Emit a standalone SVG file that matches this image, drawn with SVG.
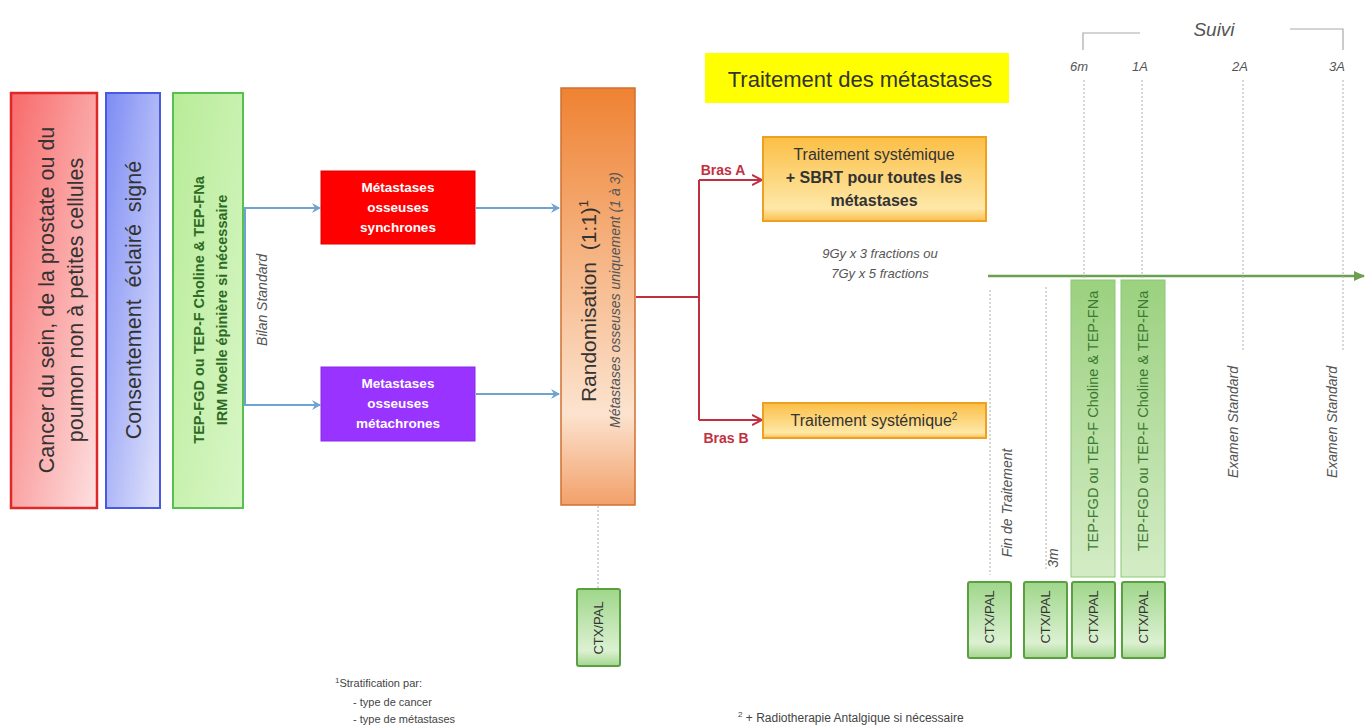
<svg xmlns="http://www.w3.org/2000/svg" width="1365" height="727" viewBox="0 0 1365 727">
<defs>
<linearGradient id="gRed" x1="0" y1="0" x2="1" y2="1"><stop offset="0" stop-color="#f86a6a"/><stop offset="1" stop-color="#fde0e0"/></linearGradient>
<linearGradient id="gBlue" x1="0" y1="0" x2="1" y2="1"><stop offset="0" stop-color="#7d8cf4"/><stop offset="1" stop-color="#e2e4fb"/></linearGradient>
<linearGradient id="gGreen" x1="0" y1="0" x2="1" y2="1"><stop offset="0" stop-color="#b8ec98"/><stop offset="1" stop-color="#d8f6c6"/></linearGradient>
<linearGradient id="gOrange" x1="0" y1="0" x2="0" y2="1"><stop offset="0" stop-color="#ef8232"/><stop offset="0.78" stop-color="#fce3cf"/><stop offset="1" stop-color="#f2a06a"/></linearGradient>
<linearGradient id="gYel" x1="0" y1="0" x2="0" y2="1"><stop offset="0" stop-color="#fbbf45"/><stop offset="0.85" stop-color="#fee8a8"/><stop offset="1" stop-color="#fbc050"/></linearGradient>
<linearGradient id="gCtx" x1="0" y1="0" x2="0" y2="1"><stop offset="0" stop-color="#9fd68a"/><stop offset="0.8" stop-color="#dcf1d2"/><stop offset="1" stop-color="#a5d690"/></linearGradient>
<linearGradient id="gTep" x1="0" y1="0" x2="0" y2="1"><stop offset="0" stop-color="#9bd17f"/><stop offset="1" stop-color="#d4ecc6"/></linearGradient>
<marker id="aBlue" markerWidth="10" markerHeight="10" refX="8" refY="5" orient="auto" markerUnits="userSpaceOnUse"><path d="M0,0 L9,5 L0,10 L3,5 Z" fill="#6fa3d2"/></marker>
<marker id="aRed" markerWidth="12" markerHeight="12" refX="9" refY="6" orient="auto" markerUnits="userSpaceOnUse"><path d="M0,1 L10,6 L0,11" fill="none" stroke="#c23040" stroke-width="2"/></marker>
<marker id="aGreen" markerWidth="12" markerHeight="12" refX="10" refY="6" orient="auto" markerUnits="userSpaceOnUse"><path d="M0,1 L11,6 L0,11 Z" fill="#6aa050"/></marker>
</defs>
<style>
text{font-family:"Liberation Sans",Arial,sans-serif}
.blue{stroke:#6fa3d2;stroke-width:2;fill:none}
.red{stroke:#c23040;stroke-width:2;fill:none}
.dot{stroke:#b0b0b0;stroke-width:1;stroke-dasharray:2,2;fill:none}
.it{font-style:italic;fill:#555}
.ctx{fill:url(#gCtx);stroke:#5aa040;stroke-width:2}
.ctxt{font-size:13px;fill:#333;text-anchor:middle}
.wt{fill:#fff;font-weight:bold;font-size:13.5px;text-anchor:middle}
.fn{fill:#444}
</style>
<rect width="1365" height="727" fill="#fff"/>

<g id="connectors">
<line class="blue" x1="245" y1="208" x2="245" y2="405"/>
<line class="blue" x1="243" y1="208" x2="320" y2="208" marker-end="url(#aBlue)"/>
<line class="blue" x1="243" y1="405" x2="320" y2="405" marker-end="url(#aBlue)"/>
<line class="blue" x1="476" y1="208" x2="559" y2="208" marker-end="url(#aBlue)"/>
<line class="blue" x1="476" y1="394" x2="559" y2="394" marker-end="url(#aBlue)"/>
<path class="red" d="M636,297 H699 M699,180 V420"/>
<line class="red" x1="699" y1="180" x2="761" y2="180" marker-end="url(#aRed)"/>
<line class="red" x1="699" y1="420" x2="761" y2="420" marker-end="url(#aRed)"/>
<line class="dot" x1="598" y1="506" x2="598" y2="588"/>
<line x1="988" y1="276" x2="1364" y2="276" stroke="#6aa050" stroke-width="2.5" marker-end="url(#aGreen)"/>
<line class="dot" x1="1084" y1="80" x2="1084" y2="280"/>
<line class="dot" x1="1142" y1="80" x2="1142" y2="280"/>
<line class="dot" x1="1243" y1="80" x2="1243" y2="350"/>
<line class="dot" x1="1343" y1="80" x2="1343" y2="350"/>
<line class="dot" x1="990" y1="290" x2="990" y2="575"/>
<line class="dot" x1="1046" y1="287" x2="1046" y2="570"/>
<path d="M1083,50 V33 H1140 M1290,29 H1343 V50" fill="none" stroke="#aaa" stroke-width="1.2"/>
</g>

<g id="cancer">
<rect x="11" y="93" width="86" height="415" fill="url(#gRed)" stroke="#e02828" stroke-width="2.5"/>
<text transform="translate(54,300) rotate(-90)" font-size="21.5" fill="#333" text-anchor="middle"><tspan x="0" y="0">Cancer du sein, de la prostate ou du</tspan><tspan x="0" y="29">poumon non à petites cellules</tspan></text>
</g>
<g id="consentement">
<rect x="106" y="93" width="54" height="415" fill="url(#gBlue)" stroke="#4a5ae0" stroke-width="2"/>
<text transform="translate(141,300) rotate(-90)" font-size="21.5" fill="#333" text-anchor="middle" xml:space="preserve">Consentement  éclairé  signé</text>
</g>
<g id="bilan">
<rect x="173" y="93" width="70" height="415" fill="url(#gGreen)" stroke="#58c050" stroke-width="2"/>
<text transform="translate(208,310) rotate(-90)" font-size="14.5" font-weight="bold" fill="#2d6a25" text-anchor="middle"><tspan x="0" y="-4">TEP-FGD ou TEP-F Choline &amp; TEP-FNa</tspan><tspan x="0" y="19">IRM Moelle épinière si nécessaire</tspan></text>
<text class="it" transform="translate(267,300) rotate(-90)" font-size="14" text-anchor="middle">Bilan Standard</text>
</g>
<g id="synchrones">
<rect x="321" y="171" width="154" height="73" fill="#ff0000" stroke="#e00000"/>
<text class="wt" x="398" y="192">Métastases<tspan x="398" dy="20">osseuses</tspan><tspan x="398" dy="20">synchrones</tspan></text>
</g>
<g id="metachrones">
<rect x="321" y="367" width="154" height="74" fill="#9933ff" stroke="#8a2ae8"/>
<text class="wt" x="398" y="388">Metastases<tspan x="398" dy="20">osseuses</tspan><tspan x="398" dy="20">métachrones</tspan></text>
</g>
<g id="randomisation">
<rect x="561" y="88" width="74" height="417" fill="url(#gOrange)" stroke="#d07030" stroke-width="1.5"/>
<text transform="translate(596,301) rotate(-90)" font-size="21" fill="#333" text-anchor="middle" xml:space="preserve">Randomisation  (1:1)<tspan font-size="13" dy="-8">1</tspan></text>
<text class="it" transform="translate(620,300) rotate(-90)" font-size="14" text-anchor="middle" fill="#444">Métastases osseuses uniquement (1 à 3)</text>
</g>
<g id="ctx0">
<rect class="ctx" x="577" y="589" width="43" height="77" rx="2"/>
<text class="ctxt" transform="translate(603,628) rotate(-90)">CTX/PAL</text>
</g>
<g id="titre">
<rect x="705" y="53" width="304" height="50" fill="#ffff00"/>
<text x="860" y="87" font-size="22" fill="#333" text-anchor="middle">Traitement des métastases</text>
</g>
<g id="brasA">
<text x="723" y="175" font-size="14" font-weight="bold" fill="#c23040" text-anchor="middle">Bras A</text>
<rect x="763" y="137" width="223" height="84" fill="url(#gYel)" stroke="#f0a020" stroke-width="2"/>
<text x="874" y="160" font-size="16" fill="#333" text-anchor="middle">Traitement systémique<tspan x="874" dy="23" font-weight="bold">+ SBRT pour toutes les</tspan><tspan x="874" dy="23" font-weight="bold">métastases</tspan></text>
<text class="it" x="880" y="258" font-size="13" text-anchor="middle">9Gy x 3 fractions ou<tspan x="880" dy="20">7Gy x 5 fractions</tspan></text>
</g>
<g id="brasB">
<text x="726" y="443" font-size="14" font-weight="bold" fill="#c23040" text-anchor="middle">Bras B</text>
<rect x="763" y="403" width="223" height="35" fill="url(#gYel)" stroke="#f0a020" stroke-width="2"/>
<text x="874" y="426" font-size="16" fill="#333" text-anchor="middle">Traitement systémique<tspan font-size="10" dy="-6">2</tspan></text>
</g>
<g id="suivi">
<text class="it" x="1214" y="36" font-size="19" text-anchor="middle">Suivi</text>
<text class="it" x="1079" y="71" font-size="13" text-anchor="middle">6m</text>
<text class="it" x="1140" y="71" font-size="13" text-anchor="middle">1A</text>
<text class="it" x="1240" y="71" font-size="13" text-anchor="middle">2A</text>
<text class="it" x="1337" y="71" font-size="13" text-anchor="middle">3A</text>
</g>
<g id="fin">
<text class="it" transform="translate(1012,503) rotate(-90)" font-size="14" text-anchor="middle">Fin de Traitement</text>
<rect class="ctx" x="968" y="582" width="43" height="76" rx="2"/>
<text class="ctxt" transform="translate(994,617) rotate(-90)">CTX/PAL</text>
</g>
<g id="m3">
<text class="it" transform="translate(1058,558) rotate(-90)" font-size="14" text-anchor="middle">3m</text>
<rect class="ctx" x="1024" y="582" width="43" height="76" rx="2"/>
<text class="ctxt" transform="translate(1050,617) rotate(-90)">CTX/PAL</text>
</g>
<g id="m6">
<rect x="1071" y="280" width="44" height="297" fill="url(#gTep)" stroke="#8cc878"/>
<text transform="translate(1098,421) rotate(-90)" font-size="14.5" fill="#3a7a30" text-anchor="middle">TEP-FGD ou TEP-F Choline &amp; TEP-FNa</text>
<rect class="ctx" x="1072" y="582" width="43" height="76" rx="2"/>
<text class="ctxt" transform="translate(1098,617) rotate(-90)">CTX/PAL</text>
</g>
<g id="a1">
<rect x="1121" y="280" width="44" height="297" fill="url(#gTep)" stroke="#8cc878"/>
<text transform="translate(1148,421) rotate(-90)" font-size="14.5" fill="#3a7a30" text-anchor="middle">TEP-FGD ou TEP-F Choline &amp; TEP-FNa</text>
<rect class="ctx" x="1122" y="582" width="43" height="76" rx="2"/>
<text class="ctxt" transform="translate(1148,617) rotate(-90)">CTX/PAL</text>
</g>
<g id="a2">
<text class="it" transform="translate(1238,422) rotate(-90)" font-size="14" text-anchor="middle">Examen Standard</text>
</g>
<g id="a3">
<text class="it" transform="translate(1337,422) rotate(-90)" font-size="14" text-anchor="middle">Examen Standard</text>
</g>
<g id="notes">
<text class="fn" x="335" y="687" font-size="11"><tspan font-size="8" dy="-4">1</tspan><tspan dy="4">Stratification par:</tspan></text>
<text class="fn" x="353" y="706" font-size="11">- type de cancer</text>
<text class="fn" x="353" y="723" font-size="11">- type de métastases</text>
<text class="fn" x="738" y="722" font-size="12"><tspan font-size="8" dy="-5">2</tspan><tspan dy="5"> + Radiotherapie Antalgique si nécessaire</tspan></text>
</g>
</svg>
